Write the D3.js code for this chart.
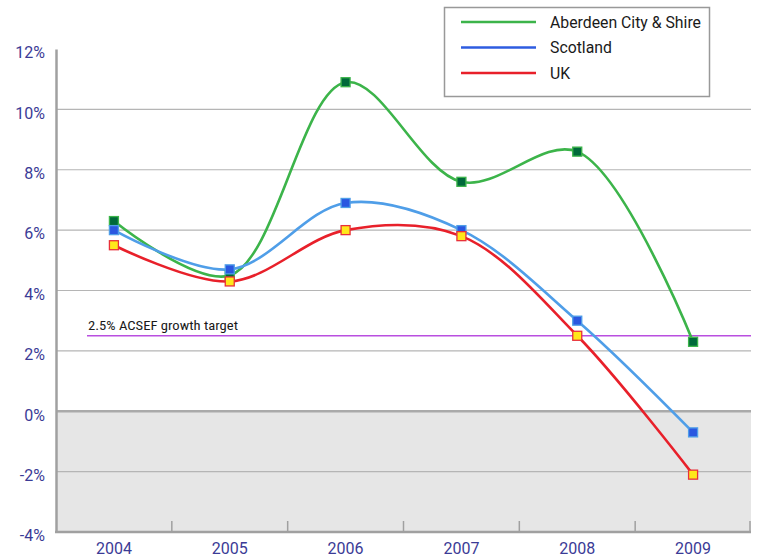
<!DOCTYPE html>
<html><head><meta charset="utf-8">
<script src="https://cdn.jsdelivr.net/npm/d3@7"></script>
<style>body{margin:0;background:#fff}</style>
</head><body>
<svg id="c" width="758" height="560"></svg>
<script>
const years = ["2004","2005","2006","2007","2008","2009"];
const aberdeen = [6.3, 4.5, 10.9, 7.6, 8.6, 2.3];
const scotland = [6.0, 4.7, 6.9, 6.0, 3.0, -0.7];
const uk = [5.5, 4.3, 6.0, 5.8, 2.5, -2.1];
const yTicks = [-4, -2, 0, 2, 4, 6, 8, 10, 12];
const target = 2.5;
const targetLabel = "2.5% ACSEF growth target";
const seriesNames = ["Aberdeen City & Shire", "Scotland", "UK"];

const svg = d3.select("#c");
const L = 56, R = 751, T = 49, B = 532;
const x = d3.scaleBand().domain(years).range([L, R]);
const y = d3.scaleLinear().domain([-4, 12]).range([B, T]);
const cx = d => x(d) + x.bandwidth() / 2;

// negative area
svg.append("rect").attr("x", L).attr("y", y(0)).attr("width", R - L).attr("height", y(-4) - y(0)).attr("fill", "#e6e6e6");

// gridlines
svg.append("g").selectAll("line").data(yTicks.filter(t => t !== 0 && t !== -4 && t !== 12)).join("line")
  .attr("x1", L).attr("x2", R).attr("y1", d => y(d)).attr("y2", d => y(d))
  .attr("stroke", "#b5b5b5").attr("stroke-width", 1.2);
svg.append("line").attr("x1", L).attr("x2", R).attr("y1", y(0)).attr("y2", y(0)).attr("stroke", "#aaa").attr("stroke-width", 2.5);

// y axis
const yAxis = d3.axisLeft(y).tickValues(yTicks).tickSize(0).tickPadding(11).tickFormat(d => d + "%");
const ga = svg.append("g").attr("transform", `translate(${L},0)`).call(yAxis);
ga.select(".domain").attr("stroke", "#a0a0a0").attr("stroke-width", 2.5);
ga.selectAll("text").attr("font-family", "Roboto, sans-serif").attr("font-size", 16).attr("fill", "#3b3b96").attr("dy", "0.55em");

// x axis
const xAxis = d3.axisBottom(x).tickSize(0).tickPadding(11);
const gx = svg.append("g").attr("transform", `translate(0,${B})`).call(xAxis);
gx.select(".domain").remove();
gx.selectAll("text").attr("font-family", "Roboto, sans-serif").attr("font-size", 16).attr("fill", "#3b3b96");
svg.append("line").attr("x1", L - 1).attr("x2", R).attr("y1", B).attr("y2", B).attr("stroke", "#a0a0a0").attr("stroke-width", 2.5);
// separators between categories
svg.append("g").selectAll("line").data(years.slice(1).concat(["end"])).join("line")
  .attr("x1", d => d === "end" ? R - 1 : x(d)).attr("x2", d => d === "end" ? R - 1 : x(d))
  .attr("y1", B - 11).attr("y2", B).attr("stroke", "#a0a0a0").attr("stroke-width", 1.5);

// target line
svg.append("line").attr("x1", 87).attr("x2", R).attr("y1", y(target)).attr("y2", y(target)).attr("stroke", "#b94fe0").attr("stroke-width", 1.5);
svg.append("text").attr("x", 88).attr("y", y(target) - 6).text(targetLabel)
  .attr("font-family", "'Roboto Condensed','Liberation Sans Narrow','DejaVu Sans Condensed',sans-serif")
  .attr("font-size", 13).attr("fill", "#1a1a1a").attr("textLength", 150).attr("lengthAdjust", "spacingAndGlyphs");

const curve = d3.curveCatmullRom.alpha(0.5);
const line = d3.line().x((d, i) => cx(years[i])).y(d => y(d)).curve(curve);
const series = [
  {vals: aberdeen, line: "#3cb44a", fill: "#00693a", stroke: "#3cb44a", leg: "#3cb44a"},
  {vals: scotland, line: "#4f9ee8", fill: "#2a57e0", stroke: "#4f9ee8", leg: "#2e5ce0"},
  {vals: uk, line: "#e8202a", fill: "#ffe81a", stroke: "#e8303a", leg: "#e8202a"}
];
series.forEach(s => {
  svg.append("path").attr("d", line(s.vals)).attr("fill", "none").attr("stroke", s.line).attr("stroke-width", 2.6);
});
series.forEach(s => {
  svg.append("g").selectAll("rect").data(s.vals).join("rect")
    .attr("x", (d, i) => cx(years[i]) - 4.5).attr("y", d => y(d) - 4.5)
    .attr("width", 9).attr("height", 9)
    .attr("fill", s.fill).attr("stroke", s.stroke).attr("stroke-width", 1.3);
});

// legend
svg.append("rect").attr("x", 444.5).attr("y", 7.5).attr("width", 265).attr("height", 89)
  .attr("fill", "#fff").attr("stroke", "#999").attr("stroke-width", 1.5);
const lg = svg.append("g").selectAll("g").data(seriesNames).join("g")
  .attr("transform", (d, i) => `translate(0,${22 + i * 25.5})`);
lg.append("line").attr("x1", 461).attr("x2", 536).attr("y1", 0).attr("y2", 0)
  .attr("stroke", (d, i) => series[i].leg).attr("stroke-width", 2.6);
lg.append("text").attr("x", 550).attr("y", 0).attr("dy", "0.35em").text(d => d)
  .attr("font-family", "Roboto, sans-serif").attr("font-size", 15.8).attr("fill", "#1a1a1a");
</script>
</body></html>
